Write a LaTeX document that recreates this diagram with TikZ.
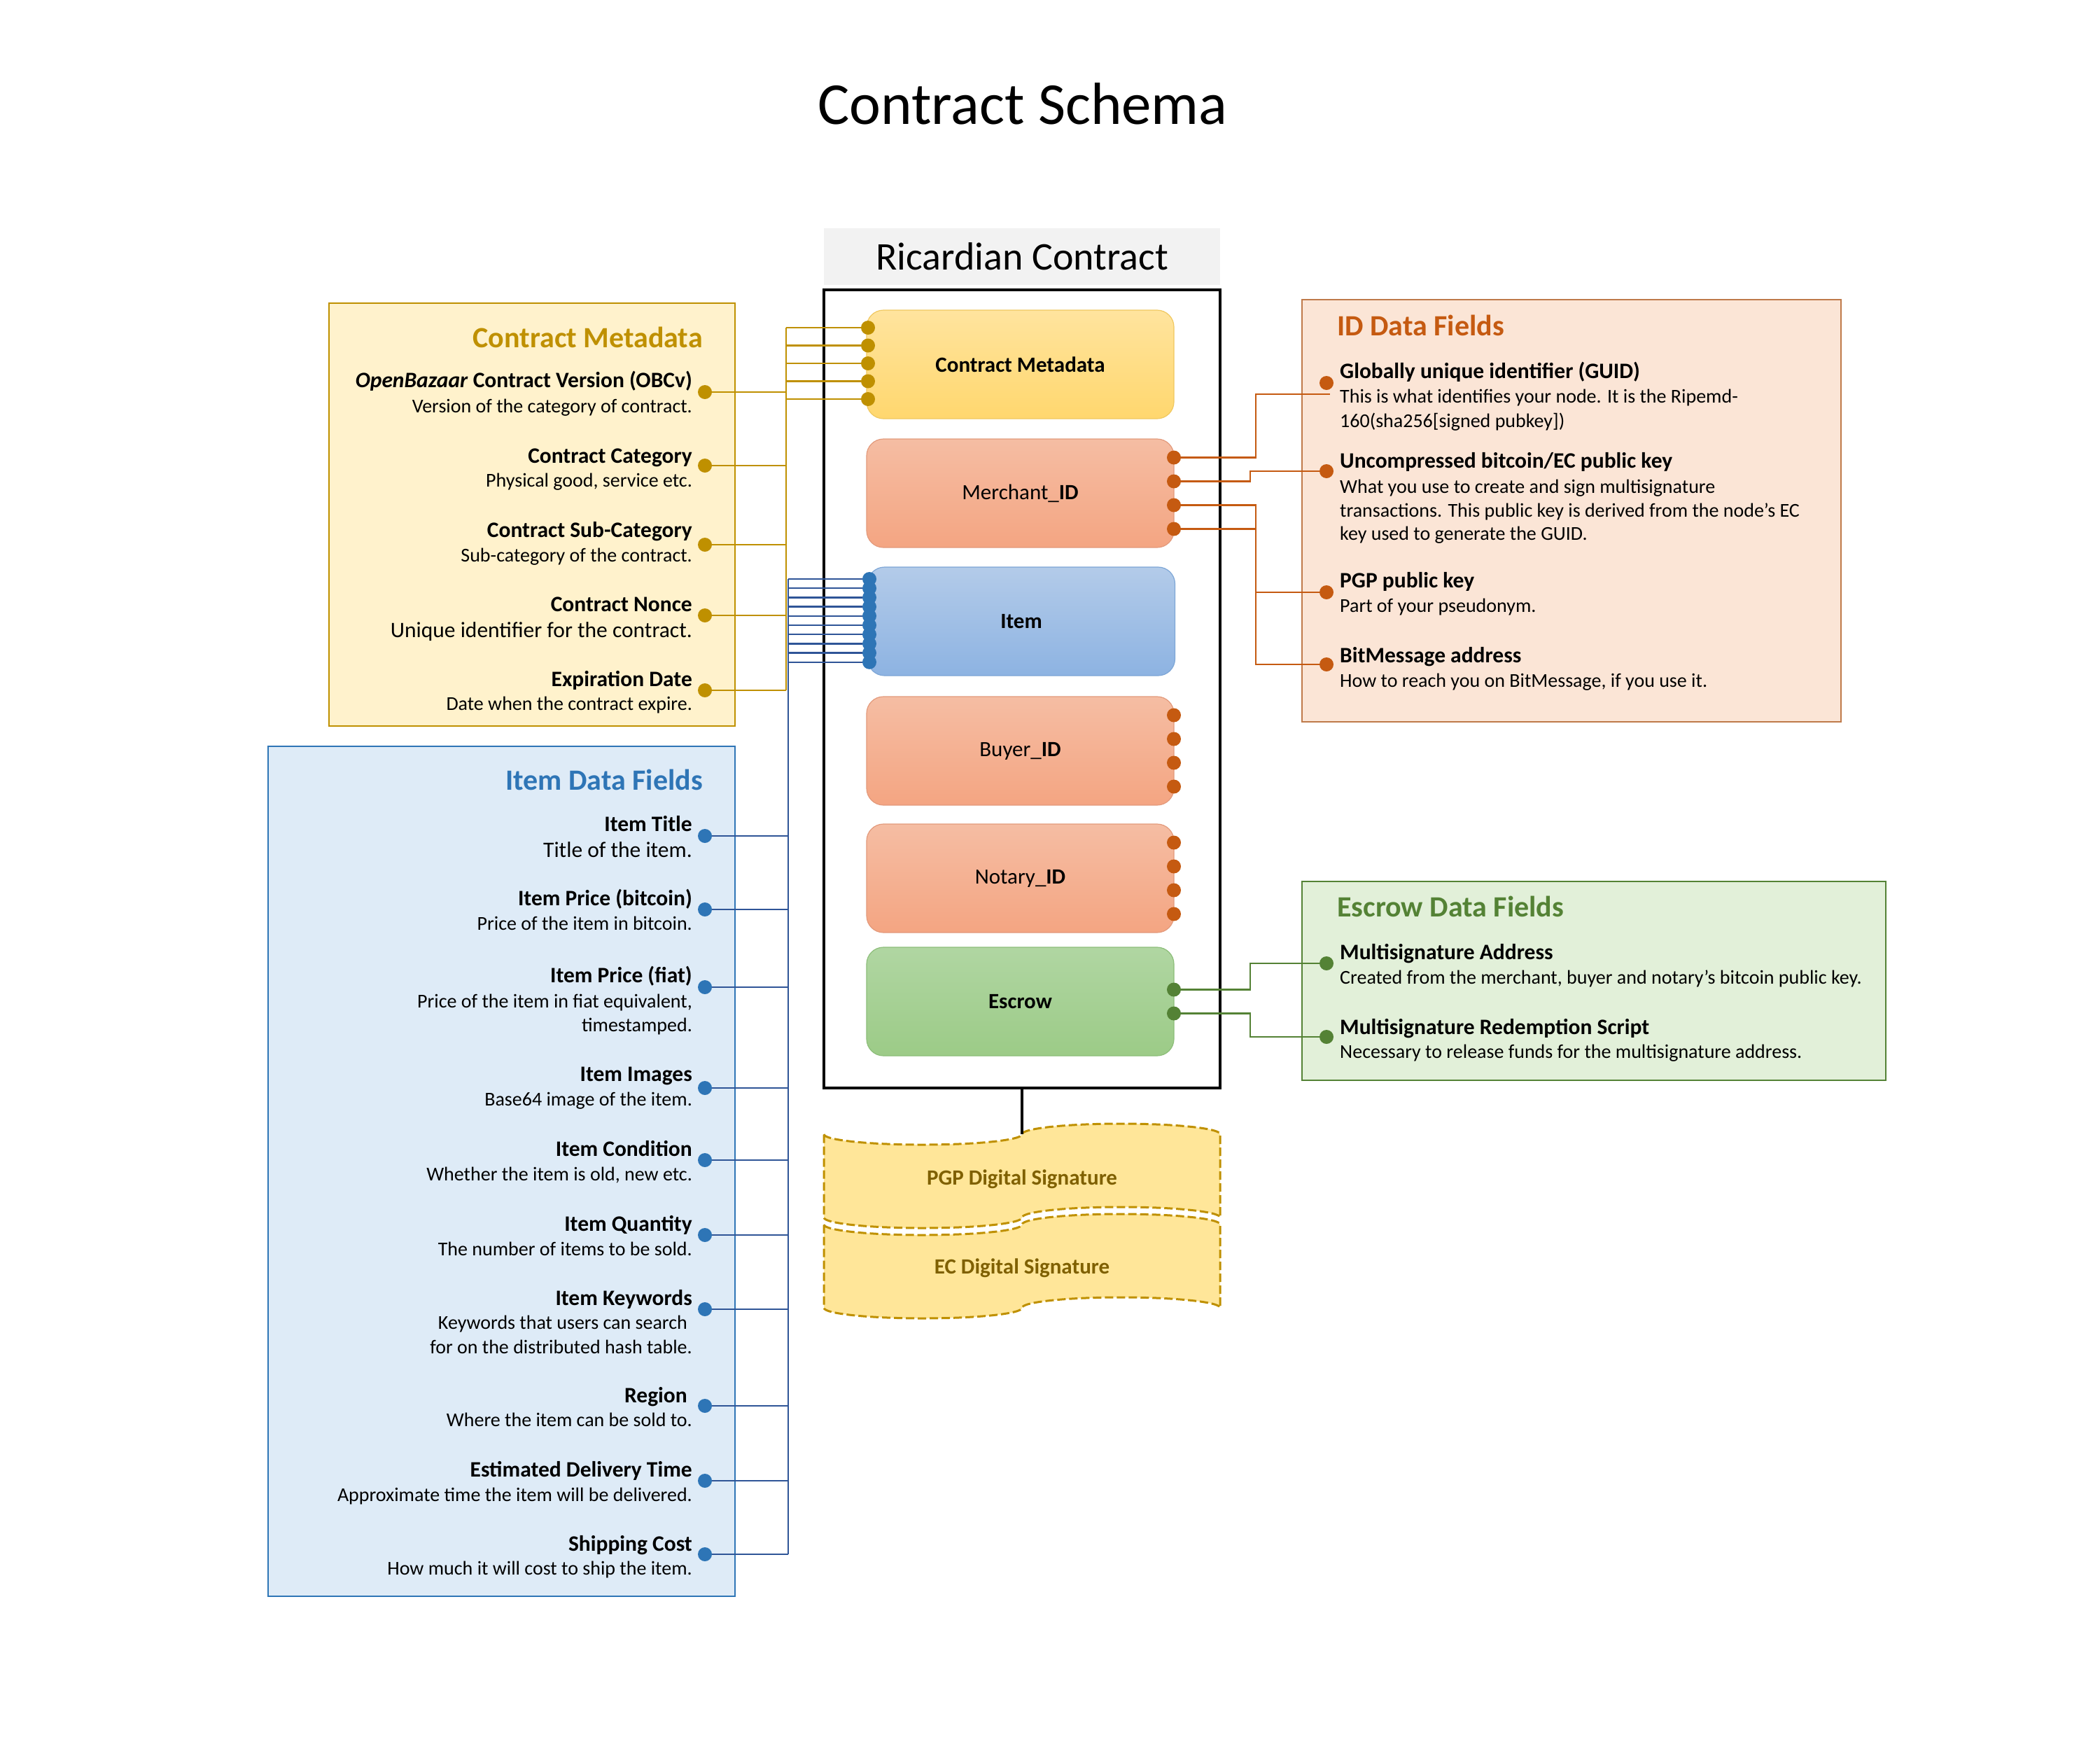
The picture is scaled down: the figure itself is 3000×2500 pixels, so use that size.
\documentclass[tikz,border=0pt]{standalone}
\usepackage{fontspec}
\setmainfont{Carlito}
\usetikzlibrary{calc}
\definecolor{gold}{HTML}{BF9000}
\definecolor{cmfill}{HTML}{FFF2CC}
\definecolor{itfill}{HTML}{DEEBF7}
\definecolor{itblue}{HTML}{2E75B6}
\definecolor{itline}{HTML}{2F5597}
\definecolor{idfill}{HTML}{FBE5D6}
\definecolor{idor}{HTML}{C55A11}
\definecolor{idborder}{HTML}{BF7A4A}
\definecolor{esfill}{HTML}{E2F0D9}
\definecolor{esgreen}{HTML}{548235}
\definecolor{tapefill}{HTML}{FFE699}
\definecolor{tapetext}{HTML}{7F6000}
\definecolor{bandgray}{HTML}{F2F2F2}
\definecolor{cmtop}{HTML}{FFE49E}
\definecolor{cmbot}{HTML}{FFD76E}
\definecolor{cmedge}{HTML}{F0C860}
\definecolor{idtop}{HTML}{F5BDA3}
\definecolor{idbot}{HTML}{F4A582}
\definecolor{idedge}{HTML}{E39A7C}
\definecolor{ittop}{HTML}{B3CBE9}
\definecolor{itbot}{HTML}{8DB3E2}
\definecolor{itedge}{HTML}{7DA6D6}
\definecolor{estop}{HTML}{B0D6A2}
\definecolor{esbot}{HTML}{9CCB87}
\definecolor{esedge}{HTML}{8DBE7A}
\newcommand{\fldtitle}{\fontsize{31.5}{36}\selectfont\bfseries}
\newcommand{\flddesc}{\fontsize{28}{34}\selectfont}
\newcommand{\flddescL}{\fontsize{31.5}{36}\selectfont}
\newcommand{\panelhead}{\fontsize{42}{48}\selectfont\bfseries}
\newcommand{\boxfont}{\fontsize{31}{36}\selectfont}
\newcommand{\tapepath}[2]{(1177,#1) .. controls (1177,#1+8.3) and (1240.4,#1+15) .. (1318.5,#1+15)
 .. controls (1396.6,#1+15) and (1460,#1+8.3) .. (1460,#1)
 .. controls (1460,#1-8.3) and (1523.4,#1-15) .. (1601.5,#1-15)
 .. controls (1679.6,#1-15) and (1743,#1-8.3) .. (1743,#1)
 -- (1743,#2)
 .. controls (1743,#2-8.3) and (1679.6,#2-15) .. (1601.5,#2-15)
 .. controls (1523.4,#2-15) and (1460,#2-8.3) .. (1460,#2)
 .. controls (1460,#2+8.3) and (1396.6,#2+15) .. (1318.5,#2+15)
 .. controls (1240.4,#2+15) and (1177,#2+8.3) .. (1177,#2) -- cycle}
\tikzset{
 panel/.style={rectangle, line width=2pt, inner sep=0pt, outer sep=0pt},
 ibox/.style={rectangle, rounded corners=24pt, line width=1.2pt, minimum width=439pt, minimum height=155pt, inner sep=0pt, font=\boxfont},
 fdot/.style={circle, fill=#1, draw=none, inner sep=0pt, minimum size=20pt},
 trt/.style={anchor=base east, inner sep=0pt, font=\fldtitle},
 trd/.style={anchor=base east, inner sep=0pt, font=\flddesc},
 tlt/.style={anchor=base west, inner sep=0pt, font=\fldtitle},
 tld/.style={anchor=base west, inner sep=0pt, font=\flddesc},
 headr/.style={anchor=base east, inner sep=0pt, font=\panelhead},
 headl/.style={anchor=base west, inner sep=0pt, font=\panelhead},
 goldline/.style={draw=gold, line width=2.5pt},
 itemline/.style={draw=itline, line width=2.5pt},
 idline/.style={draw=idor, line width=2.5pt},
 esline/.style={draw=esgreen, line width=2.5pt},
 tapeedge/.style={fill=tapefill, draw=gold, line width=3pt, dash pattern=on 12pt off 5pt},
 tapetxt/.style={inner sep=0pt, font=\boxfont\bfseries, text=tapetext},
}
\begin{document}
\begin{tikzpicture}[x=1pt,y=-1pt]
\fill[white] (0,0) rectangle (3000,2500);
\useasboundingbox (0,0) rectangle (3000,2500);

% title
\node[font=\fontsize{85}{96}\selectfont] (title) at (1461,148) {Contract Schema};

% panels
\node[panel, draw=gold, fill=cmfill, minimum width=580pt, minimum height=604pt] (cmpanel) at (760,735) {};
\node[panel, draw=itblue, fill=itfill, minimum width=667pt, minimum height=1214pt] (itpanel) at (716.5,1673) {};
\node[panel, draw=idborder, fill=idfill, minimum width=770pt, minimum height=603pt] (idpanel) at (2245,729.5) {};
\node[panel, draw=esgreen, fill=esfill, minimum width=834pt, minimum height=284pt] (espanel) at (2277,1401) {};

% Ricardian contract
\node[rectangle, fill=bandgray, minimum width=566pt, minimum height=81pt, inner sep=0pt, font=\fontsize{56}{64}\selectfont] (band) at (1460,366) {Ricardian Contract};
\node[rectangle, draw=black, line width=3.5pt, minimum width=566pt, minimum height=1140pt, inner sep=0pt, outer sep=0pt] (rcbox) at (1460,984) {};

\node[ibox, draw=cmedge, top color=cmtop, bottom color=cmbot] (bcm) at (1457.5,520.5) {\bfseries Contract Metadata};
\node[ibox, draw=idedge, top color=idtop, bottom color=idbot] (bmer) at (1457.5,704.5) {Merchant\_\textbf{ID}};
\node[ibox, draw=itedge, top color=ittop, bottom color=itbot] (bitem) at (1459,887.5) {\bfseries Item};
\node[ibox, draw=idedge, top color=idtop, bottom color=idbot] (bbuy) at (1457.5,1072.5) {Buyer\_\textbf{ID}};
\node[ibox, draw=idedge, top color=idtop, bottom color=idbot] (bnot) at (1457.5,1254.5) {Notary\_\textbf{ID}};
\node[ibox, draw=esedge, top color=estop, bottom color=esbot] (besc) at (1457.5,1430.5) {\bfseries Escrow};

% signatures
\path[tapeedge] \tapepath{1620}{1739};
\path[tapeedge] \tapepath{1749}{1868};
\node[tapetxt] (pgpsig) at (1460,1684) {PGP Digital Signature};
\node[tapetxt] (ecsig) at (1460,1811) {EC Digital Signature};
\coordinate (pgptop) at (1460,1620);
\draw[line width=3.5pt] (rcbox.south) -- (pgptop);

% ---------- Contract metadata panel
\node[headr, text=gold] (hcm) at (1004,496) {Contract Metadata};
\node[trt] (t-obcv) at (989,553) {\textit{OpenBazaar} Contract Version (OBCv)};
\node[trd] (d-obcv) at (989,589) {Version of the category of contract.};
\node[trt] (t-cat) at (989,661) {Contract Category};
\node[trd] (d-cat) at (989,695) {Physical good, service etc.};
\node[trt] (t-sub) at (989,767) {Contract Sub-Category};
\node[trd] (d-sub) at (989,802) {Sub-category of the contract.};
\node[trt] (t-non) at (989,873) {Contract Nonce};
\node[trd, font=\flddescL] (d-non) at (989,910) {Unique identifier for the contract.};
\node[trt] (t-exp) at (989,980) {Expiration Date};
\node[trd] (d-exp) at (989,1014) {Date when the contract expire.};

\node[fdot=gold] (p-obcv) at (1007,560) {};
\node[fdot=gold] (p-cat) at (1007,665) {};
\node[fdot=gold] (p-sub) at (1007,778) {};
\node[fdot=gold] (p-non) at (1007,879) {};
\node[fdot=gold] (p-exp) at (1007,986) {};

\foreach \i/\y in {1/468,2/493.5,3/519,4/544.5,5/570}
  \node[fdot=gold] (c-cm\i) at (1240,\y) {};

\coordinate (gbus) at (1123,0);
\foreach \n in {obcv,cat,sub,non,exp}
  \draw[goldline] (p-\n) -- (p-\n -| gbus);
\draw[goldline] (c-cm1 -| gbus) -- (p-exp -| gbus);
\foreach \i in {1,...,5}
  \draw[goldline] (c-cm\i -| gbus) -- (c-cm\i);

% ---------- Item panel
\node[headr, text=itblue] (hit) at (1004,1128) {Item Data Fields};
\node[trt] (t-ti) at (989,1187) {Item Title};
\node[trd, font=\flddescL] (d-ti) at (989,1224) {Title of the item.};
\node[trt] (t-pb) at (989,1293) {Item Price (bitcoin)};
\node[trd] (d-pb) at (989,1328) {Price of the item in bitcoin.};
\node[trt] (t-pf) at (989,1403) {Item Price (fiat)};
\node[trd] (d-pf) at (989,1439) {Price of the item in fiat equivalent,};
\node[trd] (d-pf2) at (989,1473) {timestamped.};
\node[trt] (t-im) at (989,1544) {Item Images};
\node[trd] (d-im) at (989,1579) {Base64 image of the item.};
\node[trt] (t-co) at (989,1651) {Item Condition};
\node[trd] (d-co) at (989,1686) {Whether the item is old, new etc.};
\node[trt] (t-qu) at (989,1758) {Item Quantity};
\node[trd] (d-qu) at (989,1793) {The number of items to be sold.};
\node[trt] (t-kw) at (989,1864) {Item Keywords};
\node[trd] (d-kw) at (982,1898) {Keywords that users can search};
\node[trd] (d-kw2) at (989,1933) {for on the distributed hash table.};
\node[trt] (t-re) at (982,2003) {Region};
\node[trd] (d-re) at (989,2037) {Where the item can be sold to.};
\node[trt] (t-ed) at (989,2109) {Estimated Delivery Time};
\node[trd] (d-ed) at (989,2144) {Approximate time the item will be delivered.};
\node[trt] (t-sc) at (989,2215) {Shipping Cost};
\node[trd] (d-sc) at (989,2249) {How much it will cost to ship the item.};

\foreach \n/\y in {ti/1194,pb/1299,pf/1410,im/1554,co/1657,qu/1764,kw/1870,re/2008,ed/2115,sc/2220}
  \node[fdot=itblue] (p-\n) at (1007,\y) {};
\foreach \i in {0,...,9}
  \node[fdot=itblue] (c-it\i) at (1242,827+13.2*\i) {};

\coordinate (bbus) at (1126,0);
\foreach \n in {ti,pb,pf,im,co,qu,kw,re,ed,sc}
  \draw[itemline] (p-\n) -- (p-\n -| bbus);
\draw[itemline] (c-it0 -| bbus) -- (p-sc -| bbus);
\foreach \i in {0,...,9}
  \draw[itemline] (c-it\i -| bbus) -- (c-it\i);

% ---------- ID panel
\node[headl, text=idor] (hid) at (1910,479) {ID Data Fields};
\node[tlt] (t-guid) at (1914,540) {Globally unique identifier (GUID)};
\node[tld] (d-guid) at (1914,575) {This is what identifies your node. It is the Ripemd-};
\node[tld] (d-guid2) at (1914,610) {160(sha256[signed pubkey])};
\node[tlt] (t-unc) at (1914,668) {Uncompressed bitcoin/EC public key};
\node[tld] (d-unc) at (1914,704) {What you use to create and sign multisignature};
\node[tld] (d-unc2) at (1914,738) {transactions. This public key is derived from the node’s EC};
\node[tld] (d-unc3) at (1914,771) {key used to generate the GUID.};
\node[tlt] (t-pgp) at (1914,839) {PGP public key};
\node[tld] (d-pgp) at (1914,874) {Part of your pseudonym.};
\node[tlt] (t-bit) at (1914,946) {BitMessage address};
\node[tld] (d-bit) at (1914,981) {How to reach you on BitMessage, if you use it.};

\node[fdot=idor] (q-guid) at (1895,547) {};
\node[fdot=idor] (q-unc) at (1895,673) {};
\node[fdot=idor] (q-pgp) at (1895,846) {};
\node[fdot=idor] (q-bit) at (1895,949) {};

\foreach \n/\c in {bmer/m,bbuy/b,bnot/n}{
  \foreach \k/\dy in {1/-51,2/-17,3/17,4/51}
    \node[fdot=idor] (\c\k) at ($(\n.center)+(219.5,\dy)$) {};
}

\coordinate (jx) at (1794,0);
\coordinate (jxb) at (1786,0);
\coordinate (guidend) at (1900,563);
\draw[idline] (m1) -- (m1 -| jx) |- (guidend);
\draw[idline] (m2) -- (m2 -| jxb) |- (q-unc);
\draw[idline] (m3) -- (m3 -| jx) |- (q-pgp);
\draw[idline] (m4) -- (m4 -| jx) |- (q-bit);

% ---------- Escrow panel
\node[headl, text=esgreen] (hes) at (1910,1309) {Escrow Data Fields};
\node[tlt] (t-ma) at (1914,1370) {Multisignature Address};
\node[tld] (d-ma) at (1914,1405) {Created from the merchant, buyer and notary’s bitcoin public key.};
\node[tlt] (t-mrs) at (1914,1477) {Multisignature Redemption Script};
\node[tld] (d-mrs) at (1914,1511) {Necessary to release funds for the multisignature address.};

\node[fdot=esgreen] (q-ma) at (1895,1376) {};
\node[fdot=esgreen] (q-mrs) at (1895,1481) {};
\node[fdot=esgreen] (e1) at (1677,1413.5) {};
\node[fdot=esgreen] (e2) at (1677,1447.5) {};

\coordinate (ex) at (1786,0);
\draw[esline] (e1) -- (e1 -| ex) |- (q-ma);
\draw[esline] (e2) -- (e2 -| ex) |- (q-mrs);
\end{tikzpicture}
\end{document}
